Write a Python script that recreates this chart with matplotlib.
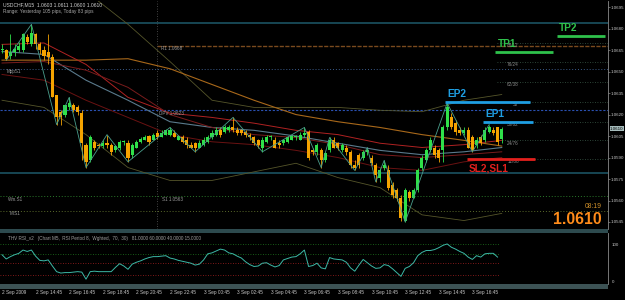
import matplotlib
matplotlib.use('Agg')
import matplotlib.pyplot as plt
import numpy as np
from matplotlib.patches import Rectangle
from matplotlib.transforms import blended_transform_factory as btf

plt.rcParams['font.family'] = ['Liberation Sans', 'DejaVu Sans']

# ---------------- data ----------------
opens = [1.0665,1.0665,1.0661,1.0664,1.0665,1.0665,1.0674,1.0669,1.0676,1.0669,
         1.0665,1.0664,1.0660,1.0634,1.0622,1.0620,1.0625,1.0627,1.0625,1.0621,
         1.0599,1.0588,1.0601,1.0599,1.0598,1.0600,1.0599,1.0595,1.0597,1.0601,
         1.0600,1.0592,1.0597,1.0601,1.0602,1.0605,1.0602,1.0607,1.0604,1.0606,
         1.0606,1.0607,1.0602,1.0604,1.0602,1.0599,1.0600,1.0597,1.0599,1.0601,
         1.0604,1.0606,1.0609,1.0608,1.0609,1.0611,1.0609,1.0609,1.0608,1.0606,
         1.0604,1.0602,1.0597,1.0601,1.0604,1.0602,1.0600,1.0600,1.0601,1.0602,
         1.0604,1.0602,1.0606,1.0608,1.0595,1.0594,1.0595,1.0588,1.0595,1.0602,
         1.0600,1.0595,1.0597,1.0594,1.0585,1.0592,1.0590,1.0594,1.0590,1.0585,
         1.0576,1.0583,1.0581,1.0571,1.0567,1.0562,1.0546,1.0566,1.0562,1.0567,
         1.0583,1.0588,1.0595,1.0597,1.0595,1.0595,1.0611,1.0618,1.0614,1.0609,
         1.0607,1.0609,1.0604,1.0599,1.0604,1.0602,1.0608,1.0609,1.0611,1.0603]
highs = [1.0669,1.0666,1.0676,1.0669,1.0671,1.0677,1.0676,1.0683,1.0677,1.0671,
         1.0668,1.0676,1.0662,1.0634,1.0623,1.0627,1.0632,1.0628,1.0627,1.0623,
         1.0600,1.0606,1.0602,1.0600,1.0602,1.0606,1.0600,1.0599,1.0602,1.0602,
         1.0602,1.0600,1.0602,1.0604,1.0606,1.0606,1.0607,1.0609,1.0609,1.0610,
         1.0611,1.0609,1.0606,1.0606,1.0604,1.0601,1.0601,1.0602,1.0604,1.0606,
         1.0609,1.0611,1.0611,1.0613,1.0613,1.0618,1.0611,1.0610,1.0609,1.0607,
         1.0605,1.0603,1.0604,1.0606,1.0606,1.0604,1.0602,1.0603,1.0604,1.0606,
         1.0606,1.0608,1.0611,1.0609,1.0597,1.0600,1.0597,1.0594,1.0604,1.0604,
         1.0601,1.0600,1.0599,1.0595,1.0588,1.0593,1.0595,1.0597,1.0592,1.0586,
         1.0583,1.0588,1.0585,1.0573,1.0569,1.0564,1.0569,1.0567,1.0569,1.0583,
         1.0592,1.0597,1.0604,1.0599,1.0597,1.0613,1.0628,1.0621,1.0616,1.0611,
         1.0611,1.0611,1.0606,1.0604,1.0606,1.0611,1.0613,1.0611,1.0611,1.0611]
lows = [1.0663,1.0658,1.0659,1.0661,1.0664,1.0664,1.0669,1.0668,1.0666,1.0662,
        1.0658,1.0655,1.0632,1.0613,1.0613,1.0618,1.0623,1.0622,1.0620,1.0588,
        1.0583,1.0587,1.0595,1.0597,1.0597,1.0597,1.0592,1.0594,1.0595,1.0599,
        1.0587,1.0590,1.0597,1.0600,1.0602,1.0599,1.0602,1.0603,1.0604,1.0606,
        1.0605,1.0604,1.0602,1.0600,1.0597,1.0597,1.0594,1.0597,1.0598,1.0600,
        1.0603,1.0605,1.0604,1.0607,1.0608,1.0608,1.0606,1.0606,1.0604,1.0602,
        1.0599,1.0597,1.0594,1.0600,1.0602,1.0597,1.0597,1.0599,1.0600,1.0602,
        1.0602,1.0602,1.0604,1.0588,1.0592,1.0592,1.0583,1.0587,1.0594,1.0597,
        1.0595,1.0594,1.0592,1.0583,1.0581,1.0583,1.0588,1.0592,1.0585,1.0573,
        1.0573,1.0581,1.0567,1.0562,1.0560,1.0546,1.0545,1.0560,1.0562,1.0566,
        1.0581,1.0587,1.0594,1.0590,1.0587,1.0587,1.0609,1.0610,1.0606,1.0606,
        1.0606,1.0597,1.0594,1.0597,1.0599,1.0601,1.0607,1.0606,1.0599,1.0600]
closes = [1.0666,1.0659,1.0664,1.0666,1.0668,1.0676,1.0671,1.0677,1.0669,1.0665,
          1.0661,1.0660,1.0632,1.0618,1.0618,1.0627,1.0628,1.0623,1.0622,1.0600,
          1.0587,1.0604,1.0597,1.0598,1.0600,1.0599,1.0594,1.0598,1.0601,1.0601,
          1.0590,1.0599,1.0601,1.0603,1.0604,1.0601,1.0606,1.0604,1.0607,1.0609,
          1.0609,1.0604,1.0605,1.0601,1.0599,1.0597,1.0597,1.0600,1.0602,1.0604,
          1.0607,1.0609,1.0606,1.0611,1.0611,1.0609,1.0607,1.0607,1.0606,1.0604,
          1.0600,1.0599,1.0602,1.0604,1.0605,1.0597,1.0599,1.0602,1.0604,1.0605,
          1.0605,1.0606,1.0607,1.0590,1.0594,1.0599,1.0588,1.0593,1.0602,1.0597,
          1.0597,1.0599,1.0594,1.0585,1.0583,1.0585,1.0594,1.0595,1.0586,1.0578,
          1.0581,1.0585,1.0569,1.0564,1.0562,1.0548,1.0567,1.0562,1.0567,1.0581,
          1.0590,1.0595,1.0602,1.0592,1.0590,1.0611,1.0625,1.0611,1.0608,1.0607,
          1.0609,1.0597,1.0595,1.0602,1.0600,1.0609,1.0611,1.0607,1.0601,1.0610]

# indicator lines, sampled at these bars
ma_bars    = [0, 10, 20, 30, 40, 50, 60, 70, 80, 90, 100, 110, 119]
ma_orange  = [1.0658,1.0658,1.0658,1.0659,1.0652,1.0641,1.0630,1.0620,1.0615,1.0611,1.0606,1.0602,1.0598]
ma_slate   = [1.0664,1.0662,1.0644,1.0630,1.0615,1.0611,1.0609,1.0605,1.0600,1.0595,1.0592,1.0594,1.0597]
ma_red     = [1.0669,1.0670,1.0655,1.0632,1.0621,1.0618,1.0614,1.0609,1.0606,1.0600,1.0597,1.0599,1.0602]
ma_darkred = [1.0656,1.0657,1.0651,1.0639,1.0620,1.0611,1.0606,1.0604,1.0599,1.0592,1.0590,1.0592,1.0594]
env_lower  = [1.0648,1.0644,1.0630,1.0618,1.0606,1.0601,1.0599,1.0595,1.0590,1.0583,1.0581,1.0587,1.0590]
band_upper = [1.0721,1.0717,1.0706,1.0683,1.0657,1.0630,1.0625,1.0625,1.0625,1.0623,1.0622,1.0630,1.0634]
band_lower = [1.0630,1.0625,1.0606,1.0583,1.0574,1.0574,1.0580,1.0586,1.0576,1.0569,1.0550,1.0546,1.0551]

zz_bars  = [1, 7, 13, 16, 20, 25, 30, 40, 46, 55, 62, 72, 76, 78, 84, 87, 89, 91, 96, 106, 112, 116]
zz_price = [1.0658,1.0683,1.0613,1.0632,1.0583,1.0606,1.0587,1.0611,1.0594,1.0618,1.0594,
            1.0611,1.0583,1.0604,1.0581,1.0597,1.0573,1.0588,1.0545,1.0628,1.0594,1.0613]

rsi = [58,49,54,58,61,68,65,68,55,46,45,47,34,22,19,20,20,21,22,21,
       6,22,23,22,22,22,22,31,39,34,27,38,42,45,49,52,54,54,55,56,
       51,49,46,44,42,40,36,38,47,60,62,66,70,68,62,60,55,51,43,37,
       33,34,40,41,36,32,35,47,50,53,54,60,68,33,35,40,30,28,52,49,
       48,47,42,30,23,36,48,41,34,29,30,37,35,28,20,12,29,33,41,56,
       63,67,67,69,73,78,81,74,70,65,61,53,48,56,53,60,61,61,53]
rsi_levels = [81, 60, 40, 15]

price_ticks = [1.0695,1.0680,1.0665,1.0650,1.0635,1.0620,1.0605,1.0590,1.0575,1.0560,1.0545]
time_bars = [0, 8, 16, 24, 32, 40, 48, 56, 64, 72, 80, 88, 96, 104, 112]
time_labels = ["2 Sep 2009","2 Sep 14:45","2 Sep 16:45","2 Sep 18:45","2 Sep 20:45",
               "2 Sep 22:45","3 Sep 00:45","3 Sep 02:45","3 Sep 04:45","3 Sep 06:45",
               "3 Sep 08:45","3 Sep 10:45","3 Sep 12:45","3 Sep 14:45","3 Sep 16:45"]

yday_high, yday_low = 1.0684, 1.0579
r1, dpv, s1 = 1.0668, 1.0623, 1.0563
mpp_s1, m_s1 = 1.0652, 1.0553
day_start_bar = 37
murrey_prices = [1.0670,1.0657,1.0643,1.0629,1.0615,1.0602,1.0589]
murrey_labels = ['88/12','76/24','62/38','50','38/62','24/76','12/88']

trade_names  = ['TP2', 'TP1', 'EP2', 'EP1', 'SL2,SL1']
trade_prices = [1.0675, 1.0664, 1.0629, 1.0615, 1.0589]
trade_start  = [132.1, 117.4, 105.5, 114.5, 110.7]
trade_end    = [143.6, 131.2, 125.7, 126.4, 126.9]
trade_colors = ['#2fc24c', '#2fc24c', '#1f9fe3', '#1f9fe3', '#e3201d']

last_price = 1.0610

# ---------------- figure ----------------
BG = 'black'
GREEN = '#2fe04a'
ORANGE = '#f5a300'
fig = plt.figure(figsize=(6.25, 3.0), dpi=100, facecolor=BG)

XL = (-0.48, 144.3)
ax = fig.add_axes([0, 71/300, 608/625, 228/300])
ax.set_facecolor(BG)
ax.set_xlim(*XL)
ax.set_ylim(1.05401, 1.06993)
for s in ['top', 'left', 'bottom']:
    ax.spines[s].set_visible(False)
ax.spines['right'].set_color('#8a8a8a')
ax.spines['right'].set_linewidth(0.6)
ax.yaxis.tick_right()
ax.set_yticks(price_ticks)
ax.set_yticklabels([f'{p:.4f}' for p in price_ticks])
ax.tick_params(axis='y', colors='#8a8a8a', labelcolor='#c8c8c8', labelsize=3.2,
               length=1.5, width=0.5, pad=0.6)
ax.tick_params(axis='x', bottom=False, labelbottom=False)

# horizontal reference lines
ax.axhline(yday_high, color='#1d5a6a', lw=1.1, zorder=1)
ax.axhline(yday_low, color='#1d5a6a', lw=1.1, zorder=1)
ax.hlines(r1, day_start_bar, XL[1], color='#7a4a1e', lw=1.0, linestyles=(0, (3, 1)), zorder=1)
ax.axhline(dpv, color='#2a50b0', lw=0.8, ls=(0, (2, 1.5)), zorder=1)
ax.axhline(mpp_s1, color='#3a5a8a', lw=0.7, ls=(0, (1, 2)), zorder=1)
ax.axhline(s1, color='#2a7a2a', lw=0.7, ls=(0, (1, 2)), zorder=1)
ax.axhline(m_s1, color='#5a6a2a', lw=0.7, ls=(0, (1, 2)), zorder=1)
ax.axvline(day_start_bar, color='#5a5a5a', lw=0.6, ls=(0, (1, 2)), zorder=1)
for p in murrey_prices:
    ax.hlines(p, 117.9, XL[1], color='#3a5a48', lw=0.6, linestyles=(0, (1, 2)), zorder=1)

tsmall = dict(fontsize=3.3, color='#9a9a9a')
ax.text(day_start_bar + 0.9, r1 - 0.00003, 'R1 1.0668', va='top', ha='left', **tsmall)
ax.text(day_start_bar + 0.5, dpv - 0.00003, 'DPV 1.0623', va='top', ha='left', **tsmall)
ax.text(day_start_bar + 1.1, s1 - 0.00003, 'S1 1.0563', va='top', ha='left', **tsmall)
ax.text(1.2, mpp_s1 - 0.00003, 'MppS1', va='top', ha='left', **tsmall)
ax.text(1.4, s1 - 0.00003, 'Wm.S1', va='top', ha='left', **tsmall)
ax.text(1.8, m_s1 - 0.00003, 'M.S1', va='top', ha='left', **tsmall)
for p, lab in zip(murrey_prices, murrey_labels):
    ax.text(120.3 if lab != '50' else 121.6, p - 0.00003, lab, va='top', ha='left',
            fontsize=3.3, color='#8a8a8a')

# indicator lines
ax.plot(ma_bars, band_upper, color='#55552a', lw=0.6, zorder=2)
ax.plot(ma_bars, band_lower, color='#55552a', lw=0.6, zorder=2)
ax.plot(ma_bars, ma_orange, color='#a8681a', lw=0.8, zorder=2)
ax.plot(ma_bars, ma_slate, color='#5a7a8c', lw=0.8, zorder=2)
ax.plot(ma_bars, ma_red, color='#b02222', lw=0.7, zorder=2)
ax.plot(ma_bars, ma_darkred, color='#7a1c1c', lw=0.7, zorder=2)
ax.plot(ma_bars, env_lower, color='#6a1212', lw=0.7, zorder=2)

# candles
idx = np.arange(len(closes))
o = np.array(opens); c = np.array(closes)
cols = np.where(c >= o, GREEN, ORANGE)
ax.vlines(idx, lows, highs, colors=cols, lw=0.6, zorder=3)
ax.bar(idx, np.maximum(np.abs(c - o), 0.00004), bottom=np.minimum(o, c), width=0.72,
       color=cols, linewidth=0, zorder=4)

# zigzag
ax.plot(zz_bars, zz_price, color='#4a9e8c', lw=0.6, zorder=5)

# trade levels
for name, p, a, b, col in zip(trade_names, trade_prices, trade_start, trade_end, trade_colors):
    ax.hlines(p, a, b, color=col, lw=2.0, zorder=6)
    if name.startswith('SL'):
        ax.text(a + 0.5, p - 0.00035, name, color=col, fontsize=7.3, fontweight='bold',
                va='top', ha='left', zorder=7)
    else:
        ax.text(a + 0.6, p + 0.00018, name, color=col, fontsize=7.3, fontweight='bold',
                va='bottom', ha='left', zorder=7)

# current price box on axis
tr = btf(ax.transAxes, ax.transData)
ax.text(1.0035, last_price, f'{last_price:.4f}', transform=tr, fontsize=3.2, color='black',
        va='center', ha='left', clip_on=False, zorder=8,
        bbox=dict(facecolor='#a6bcbc', edgecolor='none', pad=0.4))

ax.text(142.9, 1.05555, '08:19', color='#d0902a', fontsize=4.9, ha='right', va='center')
ax.text(142.9, 1.0547, f'{last_price:.4f}', color='#ff8c1a', fontsize=11.3,
        fontweight='bold', ha='right', va='center')

fig.text(3/625, 1 - 5/300, 'USDCHF,M15  1.0603 1.0611 1.0600 1.0610', fontsize=3.6,
         color='#d0d0d0', va='center', ha='left')
fig.text(3/625, 1 - 11.5/300, 'Range: Yesterday 105 pips, Today 83 pips', fontsize=3.4,
         color='#a8a8a8', va='center', ha='left')

# separators
fig.add_artist(Rectangle((0, 67/300), 608/625, 4/300, transform=fig.transFigure,
                         facecolor='#2d4a4e', edgecolor='none'))
fig.add_artist(Rectangle((0, 11/300), 608/625, 5/300, transform=fig.transFigure,
                         facecolor='#3c5254', edgecolor='none'))

# ---------------- RSI panel ----------------
ax2 = fig.add_axes([0, 16/300, 608/625, 51/300])
ax2.set_facecolor(BG)
ax2.set_xlim(*XL)
ax2.set_ylim(-4.3, 104.3)
for s in ['top', 'left', 'bottom']:
    ax2.spines[s].set_visible(False)
ax2.spines['right'].set_color('#8a8a8a')
ax2.spines['right'].set_linewidth(0.6)
ax2.set_xticks([]); ax2.set_yticks([])
for lv in rsi_levels:
    ax2.hlines(lv, XL[0], 118.5, color='#1f7a1f' if lv > 50 else '#a82020', lw=0.6,
               linestyles=(0, (1, 2)))
ax2.plot(np.arange(len(rsi)), rsi, color='#3cb8a6', lw=0.7)
ax2.text(0.013, 0.9, 'THV RSI_v2   (Chart M5,  RSI Period 8,  Wghted,  70,  30)   81.0000 60.0000 40.0000 15.0000',
         transform=ax2.transAxes, fontsize=3.3, color='#a0a0a0', va='center', ha='left')
tr2 = btf(ax2.transAxes, ax2.transData)
ax2.text(1.006, 78.7, '100', transform=tr2, fontsize=3.2, color='#c8c8c8', va='center',
         ha='left', clip_on=False)
ax2.text(1.006, 0.6, '0', transform=tr2, fontsize=3.2, color='#c8c8c8', va='center',
         ha='left', clip_on=False)
tr3 = btf(ax2.transData, ax2.transAxes)
for b, lab in zip(time_bars, time_labels):
    ax2.text(b, -0.157, lab, transform=tr3, fontsize=3.4, color='#c8c8c8', va='center',
             ha='left', clip_on=False)

fig.savefig('out.png', dpi=100, facecolor=BG)
